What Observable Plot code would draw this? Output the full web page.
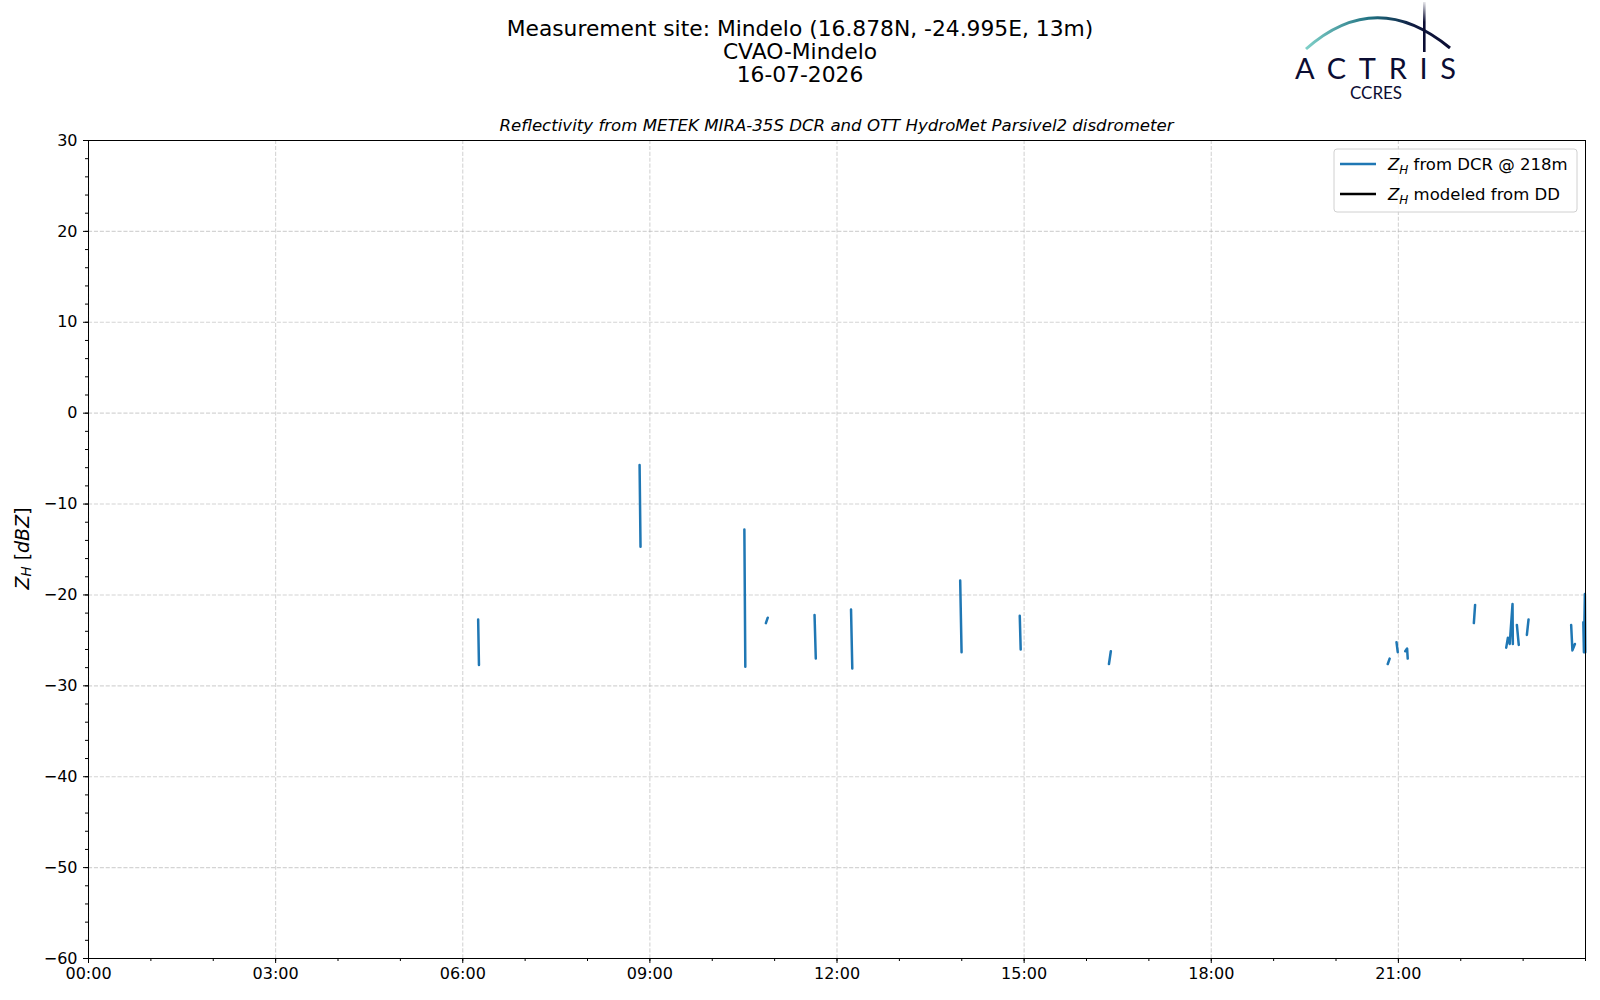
<!DOCTYPE html>
<html>
<head>
<meta charset="utf-8">
<script src="https://cdn.jsdelivr.net/npm/d3@7"></script>
<script src="https://cdn.jsdelivr.net/npm/@observablehq/plot@0.6"></script>
<style>
  body { margin: 0; background: white; }
</style>
</head>
<body>
<div id="chart"></div>
<script>
// Z_H from the DCR at 218 m, time in hours UTC, a null marks a gap in the record
const dcrHour = [
  6.247, 6.26, null,
  8.835, 8.85, null,
  10.515, 10.53, null,
  10.86, 10.89, null,
  11.64, 11.66, null,
  12.225, 12.245, null,
  13.975, 13.997, null,
  14.93, 14.945, null,
  16.36, 16.39, null,
  20.83, 20.86, null,
  20.97, 20.99, null,
  21.11, 21.14, 21.15, null,
  22.21, 22.23, null,
  22.729, 22.756, 22.785, 22.83, 22.835, null,
  22.90, 22.93, null,
  23.06, 23.087, null,
  23.77, 23.79, 23.83, null,
  23.965, 23.975, 23.99, 23.997
]
const dcrZh = [
  -22.7, -27.7, null,
  -5.7, -14.7, null,
  -12.8, -27.9, null,
  -23.1, -22.5, null,
  -22.2, -27.0, null,
  -21.6, -28.1, null,
  -18.4, -26.3, null,
  -22.3, -26.0, null,
  -27.6, -26.2, null,
  -27.6, -27.0, null,
  -25.2, -26.3, null,
  -26.2, -25.9, -27.0, null,
  -23.1, -21.1, null,
  -25.8, -24.7, -25.4, -21.0, -25.4, null,
  -23.3, -25.5, null,
  -24.4, -22.7, null,
  -23.3, -26.1, -25.4, null,
  -23.0, -26.3, -19.9, -26.3
]
// Z_H modeled from the disdrometer: no values on this day
const ddHour = []
const ddZh = []

const xTicks = [0, 3, 6, 9, 12, 15, 18, 21]
const xMinor = d3.range(0, 25, 1)
const yTicks = [-60, -50, -40, -30, -20, -10, 0, 10, 20, 30]
const yMinor = d3.range(-60, 31, 2)

const titleLines = ['Measurement site: Mindelo (16.878N, -24.995E, 13m)', 'CVAO-Mindelo', '16-07-2026']
const subtitle = 'Reflectivity from METEK MIRA-35S DCR and OTT HydroMet Parsivel2 disdrometer'
const legendLabels = [' from DCR @ 218m', ' modeled from DD']
const legendColors = ['#1f77b4', 'black']

const dcr = dcrHour.map((h, i) => ({hour: h, zh: dcrZh[i]}))
const dd = ddHour.map((h, i) => ({hour: h, zh: ddZh[i]}))

const fmtX = h => String(h).padStart(2, '0') + ':00'
const fmtY = d => d < 0 ? '\u2212' + (-d) : String(d)

const chart = Plot.plot({
  width: 1600,
  height: 1000,
  marginLeft: 88,
  marginRight: 15,
  marginTop: 140,
  marginBottom: 42,
  style: {fontFamily: 'DejaVu Sans', fontSize: '16px', color: 'black', background: 'white'},
  x: {type: 'linear', domain: [0, 24]},
  y: {domain: [-60, 30]},
  marks: [
    Plot.gridX(xTicks, {stroke: '#b0b0b0', strokeOpacity: 0.55, strokeWidth: 1.1, strokeDasharray: '4.1,1.8'}),
    Plot.gridY(yTicks, {stroke: '#b0b0b0', strokeOpacity: 0.55, strokeWidth: 1.1, strokeDasharray: '4.1,1.8'}),
    Plot.axisX({ticks: xMinor, tickSize: 3, tickFormat: () => '', label: null}),
    Plot.axisY({ticks: yMinor, tickSize: 3, tickFormat: () => '', label: null}),
    Plot.axisX({ticks: xTicks, tickSize: 5, tickPadding: 4, tickFormat: fmtX, label: null}),
    Plot.axisY({ticks: yTicks, tickSize: 5, tickPadding: 6, tickFormat: fmtY, label: null}),
    Plot.line(dd, {x: 'hour', y: 'zh', stroke: 'black', strokeWidth: 2.5}),
    Plot.line(dcr, {x: 'hour', y: 'zh', stroke: '#1f77b4', strokeWidth: 2.5}),
    Plot.frame({stroke: 'black', strokeWidth: 1})
  ]
})

d3.select('#chart').append(() => chart)

const svg = d3.select(chart)
const font = 'DejaVu Sans'

// titles
titleLines.forEach((t, i) => {
  svg.append('text')
    .attr('x', 800).attr('y', 36 + i * 23)
    .attr('text-anchor', 'middle')
    .attr('font-family', font).attr('font-size', 21.8).attr('fill', 'black')
    .text(t)
})
svg.append('text')
  .attr('x', 836.5).attr('y', 126)
  .attr('text-anchor', 'middle').attr('dominant-baseline', 'middle')
  .attr('font-family', font).attr('font-size', 16.6).attr('font-style', 'italic').attr('fill', 'black')
  .text(subtitle)

// y label: Z_H [dBZ]
const yl = svg.append('text')
  .attr('transform', 'translate(23,548.5) rotate(-90)')
  .attr('text-anchor', 'middle').attr('dominant-baseline', 'middle')
  .attr('font-family', font).attr('font-size', 19).attr('fill', 'black')
yl.append('tspan').attr('font-style', 'italic').text('Z')
yl.append('tspan').attr('font-style', 'italic').attr('font-size', 13.5).attr('dy', 4).text('H')
yl.append('tspan').attr('dy', -4).text(' [')
yl.append('tspan').attr('font-style', 'italic').text('dBZ')
yl.append('tspan').text(']')

// legend
svg.append('rect')
  .attr('x', 1334).attr('y', 149).attr('width', 243).attr('height', 63).attr('rx', 3)
  .attr('fill', 'white').attr('fill-opacity', 0.8).attr('stroke', '#d0d0d0')
legendLabels.forEach((lab, i) => {
  const y = 164 + i * 30
  svg.append('line')
    .attr('x1', 1340).attr('x2', 1376).attr('y1', y).attr('y2', y)
    .attr('stroke', legendColors[i]).attr('stroke-width', 2.5)
  const t = svg.append('text')
    .attr('x', 1388).attr('y', y + 6)
    .attr('text-anchor', 'start')
    .attr('font-family', font).attr('font-size', 16.5).attr('fill', 'black')
  t.append('tspan').attr('font-style', 'italic').text('Z')
  t.append('tspan').attr('font-style', 'italic').attr('font-size', 12).attr('dy', 4).text('H')
  t.append('tspan').attr('dy', -4).text(lab)
})

// ACTRIS CCRES logo
const defs = svg.append('defs')
const g1 = defs.append('linearGradient').attr('id', 'arcGrad').attr('x1', '0%').attr('x2', '100%')
g1.append('stop').attr('offset', '0%').attr('stop-color', '#7fd0c8')
g1.append('stop').attr('offset', '45%').attr('stop-color', '#1f6f80')
g1.append('stop').attr('offset', '75%').attr('stop-color', '#0f1a40')
g1.append('stop').attr('offset', '100%').attr('stop-color', '#0b0d33')
const g2 = defs.append('linearGradient').attr('id', 'barGrad').attr('x1', '0%').attr('x2', '0%').attr('y1', '0%').attr('y2', '100%')
g2.append('stop').attr('offset', '0%').attr('stop-color', '#0b0d33').attr('stop-opacity', 0.1)
g2.append('stop').attr('offset', '40%').attr('stop-color', '#0b0d33').attr('stop-opacity', 1)
svg.append('path')
  .attr('d', 'M1306,49 Q1376,-13 1450,48')
  .attr('fill', 'none').attr('stroke', 'url(#arcGrad)').attr('stroke-width', 3)
svg.append('rect')
  .attr('x', 1423).attr('y', 2).attr('width', 2.6).attr('height', 50)
  .attr('fill', 'url(#barGrad)')
svg.append('text')
  .attr('x', 1295).attr('y', 79)
  .attr('text-anchor', 'start')
  .attr('font-family', 'Lato').attr('font-size', 29).attr('fill', '#0b0d33')
  .attr('textLength', 161).attr('lengthAdjust', 'spacing')
  .text('ACTRIS')
svg.append('text')
  .attr('x', 1376).attr('y', 99)
  .attr('text-anchor', 'middle')
  .attr('font-family', 'Lato').attr('font-size', 17).attr('fill', '#0b0d33')
  .text('CCRES')
</script>
</body>
</html>
